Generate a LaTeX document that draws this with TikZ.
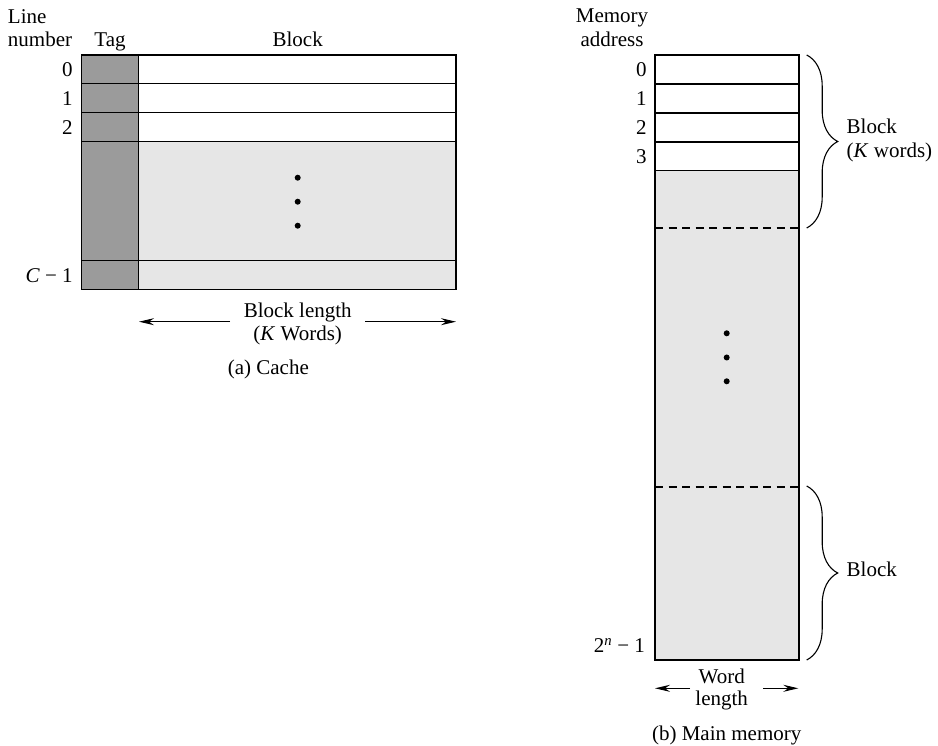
\documentclass[tikz,border=0pt]{standalone}
\usepackage{fontspec}
\setmainfont{Liberation Serif}
\usetikzlibrary{arrows.meta,decorations.pathreplacing}
\definecolor{tagfill}{HTML}{9B9B9B}
\definecolor{lightfill}{HTML}{E6E6E6}
\begin{document}
\begin{tikzpicture}[x=1pt,y=-1pt,
  every node/.style={inner sep=0pt,outer sep=0pt,font=\fontsize{21}{25}\selectfont},
  cell/.style={draw=black,line width=1.3pt},
  dashline/.style={draw=black,line width=1.2pt,dash pattern=on 8pt off 5.5pt},
  dimarrow/.style={line width=1.1pt,-{Stealth[length=15pt,width=7pt,inset=5pt]}},
  bracestyle/.style={draw=black,line width=1.1pt,decorate,decoration={brace,amplitude=31pt,aspect=0.5}},
  dotmark/.style={fill=black}]
\useasboundingbox (0,0) rectangle (938,746);
% ---------- (a) Cache ----------
\node[anchor=base west] (linelbl) at (8,23.3) {Line};
\node[anchor=base west] (numlbl) at (8,46.7) {number};
\node[anchor=base] (taglbl) at (110,46.7) {Tag};
\node[anchor=base] (blocklbl) at (297.7,46.7) {Block};
% tag column
\fill[tagfill] (81.7,55) rectangle (138.7,289.3);
% block column
\fill[white] (138.7,55) rectangle (456,141.7);
\fill[lightfill] (138.7,141.7) rectangle (456,289.3);
\draw[cell] (81.7,55) rectangle (456,289.3);
\draw[cell] (138.7,55) -- (138.7,289.3);
\foreach \yy in {83.7,112.7,141.7,260.7} \draw[cell] (81.7,\yy) -- (456,\yy);
% row numbers
\node[anchor=base east] (c0) at (72.7,77) {0};
\node[anchor=base east] (c1) at (72.7,105.7) {1};
\node[anchor=base east] (c2) at (72.7,134.7) {2};
\node[anchor=base east] (cC) at (72.7,283) {\textit{C} − 1};
% dots
\foreach \yy in {177.7,201.7,225.7} \fill[dotmark] (297.7,\yy) circle (3);
% block length
\node[anchor=base] (bl1) at (297.7,317.3) {Block length};
\node[anchor=base] (bl2) at (297.7,340.7) {(\textit{K} Words)};
\coordinate (blL) at (139,321.7);
\coordinate (blR) at (456,321.7);
\draw[dimarrow] (230,321.7) -- (blL);
\draw[dimarrow] (365,321.7) -- (blR);
\node[anchor=base] (capA) at (268.3,374) {(a) Cache};
% ---------- (b) Main memory ----------
\node[anchor=base] (memlbl) at (612,22.7) {Memory};
\node[anchor=base] (addrlbl) at (612,46.7) {address};
\fill[white] (655,55) rectangle (799,170.3);
\fill[lightfill] (655,170.3) rectangle (799,660);
\draw[cell] (655,55) rectangle (799,660);
\foreach \yy in {84,113,142,170.3} \draw[cell] (655,\yy) -- (799,\yy);
\draw[dashline] (655,228) -- (799,228);
\draw[dashline] (655,487) -- (799,487);
\node[anchor=base east] (m0) at (646.7,77) {0};
\node[anchor=base east] (m1) at (646.7,106) {1};
\node[anchor=base east] (m2) at (646.7,135) {2};
\node[anchor=base east] (m3) at (646.7,164) {3};
\node[anchor=base east] (mN) at (645,652.7) {2\textsuperscript{\textit{n}} − 1};
\foreach \yy in {333.3,357.5,381.3} \fill[dotmark] (726.7,\yy) circle (3);
% braces
\coordinate (b1t) at (806.7,55);
\coordinate (b1b) at (806.7,228);
\coordinate (b2t) at (806.7,486);
\coordinate (b2b) at (806.7,660);
\draw[bracestyle] (b1t) -- (b1b);
\draw[bracestyle] (b2t) -- (b2b);
\node[anchor=base west] (blk1) at (846.7,134) {Block};
\node[anchor=base west] (blk1b) at (846.7,157.3) {(\textit{K} words)};
\node[anchor=base west] (blk2) at (846.7,576.7) {Block};
% word length
\node[anchor=base] (wl1) at (721.7,683.3) {Word};
\node[anchor=base] (wl2) at (721.7,705) {length};
\coordinate (wlL) at (655,688.3);
\coordinate (wlR) at (798.3,688.3);
\draw[dimarrow] (690,688.3) -- (wlL);
\draw[dimarrow] (763.3,688.3) -- (wlR);
\node[anchor=base] (capB) at (726.7,740.7) {(b) Main memory};
\end{tikzpicture}
\end{document}
